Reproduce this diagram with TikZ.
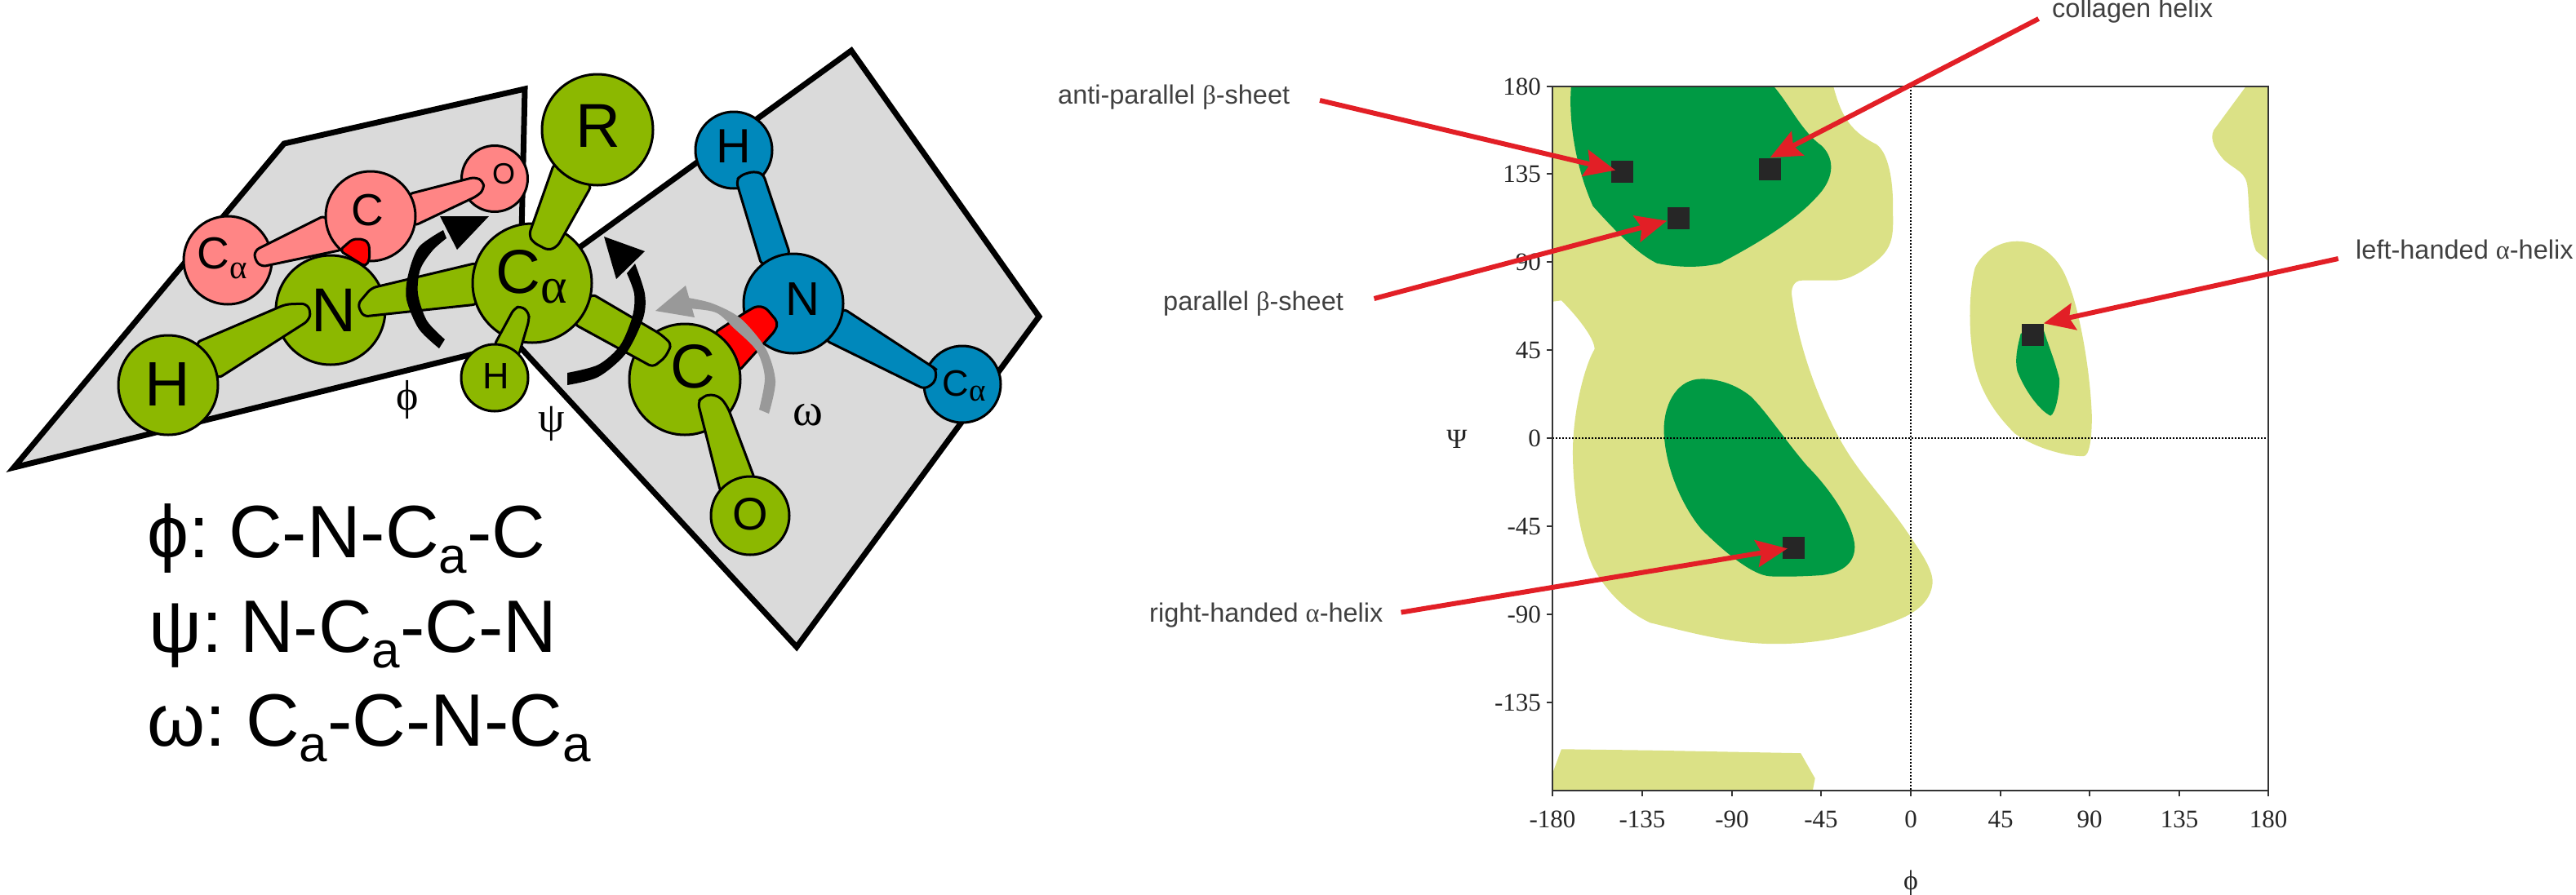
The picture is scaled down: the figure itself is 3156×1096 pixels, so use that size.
\documentclass[tikz,border=0pt]{standalone}
\usepackage{fontspec}
\setmainfont{Liberation Sans}
\newfontfamily\serifgr{Liberation Serif}
\usetikzlibrary{arrows.meta}
\newcommand{\fsz}[1]{\fontsize{#1}{#1}\selectfont}
\definecolor{plane}{HTML}{DADADA}
\definecolor{olive}{HTML}{8CB800}
\definecolor{pinkat}{HTML}{FF8585}
\definecolor{blueat}{HTML}{0088BB}
\definecolor{lightrama}{HTML}{DBE186}
\definecolor{darkrama}{HTML}{009A44}
\definecolor{redarrow}{HTML}{E21F26}
\definecolor{frameink}{HTML}{333333}
\definecolor{squareink}{HTML}{262626}
\tikzset{
  planeface/.style={fill=plane,draw=black,line width=7pt,line join=miter},
  atom/.style={circle,draw=black,line width=3pt,inner sep=0pt,minimum size=#1},
  greenat/.style={atom=#1,fill=olive},
  pinka/.style={atom=#1,fill=pinkat},
  bluea/.style={atom=#1,fill=blueat},
  bondg/.style={fill=olive,draw=black,line width=3pt,rounded corners=6pt},
  bondp/.style={fill=pinkat,draw=black,line width=3pt,rounded corners=6pt},
  bondb/.style={fill=blueat,draw=black,line width=3pt,rounded corners=6pt},
  bondr/.style={fill=red,draw=black,line width=3pt,rounded corners=5pt},
  turnhead/.style={fill=black},
  grayhead/.style={fill=black!40},
  lightreg/.style={fill=lightrama},
  darkreg/.style={fill=darkrama},
  marker/.style={rectangle,fill=squareink,inner sep=0pt,minimum size=27pt},
  redline/.style={draw=redarrow,line width=6pt,-{Stealth[length=38pt,width=33pt,inset=6pt]}},
  ticklab/.style={font=\serifgr\fsz{31},text=black!85,inner sep=0pt},
  plab/.style={font=\fsz{32.5},text=black!75,inner sep=0pt},
  eqn/.style={font=\fsz{91},anchor=base west,inner sep=0pt},
  angle/.style={font=\serifgr\fsz{52},inner sep=0pt},
}
\newcommand{\suba}{\raisebox{-19pt}[0pt][0pt]{\fsz{62}a}}
\newcommand{\calf}[2]{C\raisebox{-#2pt}[0pt][0pt]{\serifgr\fsz{#1}α}}
% text in an atom, moved dx right and dy down of the atom's centre
\newcommand{\ot}[3]{\raisebox{\dimexpr-#2pt-0.344em\relax}[0pt][0pt]{\makebox[0pt][c]{\hspace*{\dimexpr #1pt*2\relax}#3}}}
\begin{document}
\begin{tikzpicture}[x=1pt,y=-1pt]
\useasboundingbox (0,0) rectangle (3156,1096);
% planes
\draw[planeface] (17,573) -- (348,176) -- (643,109) -- (636,420) -- cycle;
\draw[planeface] (1043,62) -- (1273,388) -- (976,793) -- (634,422) -- (640,354) -- cycle;
% pink residue
\node[pinka=108pt,font=\fsz{55}] (pca) at (279,319) {\ot{-7}{-8}{\calf{41}{12}}};
\node[pinka=81pt,font=\fsz{36}] (po) at (606,219) {\ot{11}{-6}{O}};
\draw[bondp] (398,264) -- (312,307) -- (312,318) -- (320,327) -- (420,306) -- cycle;
\draw[bondp] (500,238) -- (582,217) -- (592,222) -- (593,232) -- (585,240) -- (507,277) -- cycle;
\node[pinka=110pt,font=\fsz{55}] (pc) at (454,265) {\ot{-4}{-7}{C}};
\draw[bondr] (416,307) -- (432,293) -- (445,293) -- (452,298) -- (453,317) -- (448,327) -- cycle;
% blue residue
\node[bluea=94pt,font=\fsz{45}] (bca) at (1179,471) {\ot{2}{-1}{\calf{39}{6}}};
\node[bluea=94pt,font=\fsz{59}] (bh) at (899,184) {\ot{0}{-4.5}{H}};
\draw[bondb] (902,222) -- (907,215) -- (923,210) -- (935,213) -- (968,312) -- (933,325) -- cycle;
\draw[bondb] (1033,378) -- (1143,450) -- (1147,453) -- (1146,468) -- (1133,477) -- (1011,417) -- cycle;
\node[bluea=122pt,font=\fsz{58}] (bn) at (972,372) {\ot{11}{-5}{N}};
\draw[bondr] (875,408) -- (913,383) -- (927,375) -- (938,377) -- (953,395) -- (950,405) -- (905,455) -- cycle;
% green residue
\node[greenat=134pt,font=\fsz{76}] (gn) at (405,380) {\ot{3.5}{0}{N}};
\draw[bondg] (240,420) -- (350,373) -- (375,372) -- (381,382) -- (378,393) -- (267,464) -- cycle;
\draw[bondg] (585,322) -- (455,353) -- (438,373) -- (445,388) -- (585,373) -- cycle;
\node[greenat=122pt,font=\fsz{77}] (gh) at (206,472) {\ot{-1}{-1}{H}};
\node[greenat=136pt,font=\fsz{76}] (gc) at (839,465) {\ot{10}{-16}{C}};
\draw[bondg] (725,360) -- (810,410) -- (823,422) -- (815,438) -- (800,450) -- (703,397) -- cycle;
\draw[bondg] (855,493) -- (860,487) -- (870,483) -- (883,487) -- (892,500) -- (925,588) -- (883,604) -- cycle;
\node[greenat=96pt,font=\fsz{56}] (go) at (919,632) {\ot{0}{-2}{O}};
\node[greenat=146pt,font=\fsz{76}] (gca) at (652,347) {\ot{-1}{-13.5}{\calf{62}{12}}};
\draw[bondg] (648,288) -- (653,297) -- (672,307) -- (683,302) -- (725,227) -- (679,200) -- cycle;
\node[greenat=136pt,font=\fsz{76}] (gr) at (732,159) {\ot{1}{-5}{R}};
\draw[bondg] (605,424) -- (630,378) -- (638,375) -- (648,383) -- (648,393) -- (635,437) -- cycle;
\node[greenat=82pt,font=\fsz{45}] (gh2) at (606,463) {\ot{2}{-2}{H}};
% rotation arrows
\fill[turnhead] plot[smooth] coordinates {(538,427) (513,403) (498,367) (500,337) (513,303) (543,282)}
  -- plot[smooth] coordinates {(547,292) (530,307) (515,330) (512,360) (523,393) (545,416)} -- cycle;
\fill[turnhead] (539,265) -- (599,265) -- (560,306) -- cycle;
\fill[turnhead] plot[smooth] coordinates {(695,472) (733,462) (767,433) (788,390) (790,360) (778,323)}
  -- plot[smooth] coordinates {(768,335) (777,360) (775,387) (760,423) (733,447) (695,457)} -- cycle;
\fill[turnhead] (740,290) -- (790,308) -- (755,342) -- cycle;
\fill[grayhead] plot[smooth] coordinates {(942,507) (950,467) (938,427) (907,390) (873,372) (843,365)}
  -- plot[smooth] coordinates {(843,378) (877,383) (900,403) (927,430) (937,463) (930,502)} -- cycle;
\fill[grayhead] (840,350) -- (803,381) -- (851,389) -- cycle;
\node[angle] (lphi) at (499,490) {ϕ};
\node[angle] (lpsi) at (676,519) {ψ};
\node[angle,font=\serifgr\fsz{56}] (lomega) at (990,509) {ω};
% equations
\node[eqn] (eq1g) at (180,683) {ϕ:};
\node[eqn] (eq1) at (280,683) {C-N-C\suba-C};
\node[eqn] (eq2g) at (182,799) {ψ:};
\node[eqn] (eq2) at (294,799) {N-C\suba-C-N};
\node[eqn] (eq3g) at (180,914) {ω:};
\node[eqn] (eq3) at (301,914) {C\suba-C-N-C\suba};
% Ramachandran regions
\begin{scope}[shift={(1250,0)},x=0.7015pt,y=-0.7015pt]
\filldraw[lightreg,draw=none] (930,151) -- (1420,151) .. controls (1432,195) and (1445,228) .. (1495,252)
  .. controls (1520,270) and (1525,330) .. (1524,370) .. controls (1525,410) and (1525,435) .. (1490,460)
  .. controls (1465,478) and (1445,490) .. (1420,490) -- (1365,490) .. controls (1350,490) and (1345,505) .. (1348,520)
  .. controls (1360,610) and (1395,700) .. (1430,765) .. controls (1465,830) and (1510,870) .. (1556,940)
  .. controls (1580,975) and (1595,1000) .. (1593,1020) .. controls (1590,1050) and (1565,1070) .. (1535,1082)
  .. controls (1470,1108) and (1400,1125) .. (1320,1125) .. controls (1240,1125) and (1170,1105) .. (1100,1088)
  .. controls (1050,1065) and (1015,1020) .. (1000,990) .. controls (975,935) and (965,850) .. (965,790)
  .. controls (965,720) and (985,640) .. (1003,610) .. controls (1003,590) and (970,550) .. (945,525) -- (930,527) -- cycle;
\filldraw[darkreg,draw=none] (962,151) .. controls (958,200) and (965,280) .. (1000,360)
  .. controls (1040,405) and (1080,445) .. (1112,460) .. controls (1150,468) and (1190,468) .. (1222,460)
  .. controls (1270,435) and (1350,390) .. (1390,345) .. controls (1420,315) and (1425,280) .. (1400,255)
  .. controls (1365,230) and (1345,185) .. (1316,151) -- cycle;
\filldraw[darkreg,draw=none] (1190,662) .. controls (1150,662) and (1125,700) .. (1124,750)
  .. controls (1125,820) and (1160,890) .. (1190,925) .. controls (1220,955) and (1275,1005) .. (1310,1007)
  .. controls (1340,1008) and (1370,1007) .. (1400,1005) .. controls (1440,1000) and (1460,980) .. (1457,950)
  .. controls (1450,905) and (1410,850) .. (1375,815) .. controls (1340,775) and (1300,715) .. (1275,692)
  .. controls (1250,672) and (1220,662) .. (1190,662) -- cycle;
\filldraw[lightreg,draw=none] (945,1309) -- (1100,1311) -- (1363,1316) -- (1388,1360) -- (1384,1381) -- (930,1381) -- (930,1350) -- cycle;
\end{scope}
\begin{scope}[shift={(2200,0)},x=0.6098pt,y=-0.699pt]
\filldraw[lightreg,draw=none] (905,151) -- (840,228) .. controls (830,245) and (845,265) .. (860,280)
  .. controls (885,300) and (905,300) .. (908,330) .. controls (912,370) and (910,410) .. (925,440) -- (950,458) -- (950,151) -- cycle;
\filldraw[lightreg,draw=none] (445,423) .. controls (400,423) and (370,450) .. (360,470)
  .. controls (348,510) and (348,570) .. (354,610) .. controls (362,680) and (400,725) .. (440,760)
  .. controls (480,785) and (540,800) .. (578,800) .. controls (590,800) and (595,770) .. (595,730)
  .. controls (592,650) and (570,540) .. (545,490) .. controls (525,445) and (485,423) .. (445,423) -- cycle;
\filldraw[darkreg,draw=none] (452,585) .. controls (445,610) and (440,630) .. (445,650)
  .. controls (460,685) and (490,720) .. (512,729) .. controls (522,725) and (530,690) .. (530,665)
  .. controls (520,630) and (505,600) .. (495,570) -- cycle;
\end{scope}
% axes
\draw[black,line width=1.5pt,dash pattern=on 2pt off 2pt] (1902,537) -- (2779,537);
\draw[black,line width=1.5pt,dash pattern=on 2pt off 2pt] (2341,106) -- (2341,969);
\draw[frameink,line width=2.5pt] (1902,106) rectangle (2779,969);
\foreach \n/\ya/\lab in {a/106/180,b/213/135,c/321/90,d/429/45,e/537/0,f/645/-45,g/753/-90,h/861/-135}{
  \draw[frameink,line width=1.5pt] (1895,\ya) -- (1902,\ya);
  \node[ticklab,anchor=east] (yl\n) at (1888,\ya) {\lab};
}
\foreach \n/\xa/\lab in {a/1902/-180,b/2012/-135,c/2122/-90,d/2231/-45,e/2341/0,f/2451/45,g/2560/90,h/2670/135,i/2779/180}{
  \draw[frameink,line width=1.5pt] (\xa,969) -- (\xa,976);
  \node[ticklab,anchor=base] (xl\n) at (\xa,1014) {\lab};
}
\node[ticklab,font=\serifgr\fsz{34}] (psiax) at (1785,538) {Ψ};
\node[ticklab,font=\serifgr\fsz{34}] (phiax) at (2341,1082) {ϕ};
% markers
\node[marker] (sqa) at (1987,210.5) {};
\node[marker] (sqc) at (2168.5,207) {};
\node[marker] (sqp) at (2056,267) {};
\node[marker] (sqr) at (2197.7,671) {};
\node[marker] (sql) at (2490,410) {};
% labels
\node[plab,anchor=west] (la) at (1296,119) {anti-parallel {\serifgr β}-sheet};
\node[plab,anchor=west] (lp) at (1425,372) {parallel {\serifgr β}-sheet};
\node[plab,anchor=west] (lr) at (1408,754) {right-handed {\serifgr α}-helix};
\node[plab,anchor=west] (lc) at (2514,13) {collagen helix};
\node[plab,anchor=west] (ll) at (2886,306) {left-handed {\serifgr α}-helix};
% red arrows
\coordinate (sa) at (1617,123);
\coordinate (sp) at (1683.5,366);
\coordinate (sr) at (1716.5,750.6);
\coordinate (sc) at (2497.6,23);
\coordinate (sl) at (2864.7,317);
\draw[redline,shorten >=-6pt] (sa) -- (sqa);
\draw[redline] (sp) -- (sqp);
\draw[redline,shorten >=-6pt] (sr) -- (sqr);
\draw[redline] (sc) -- (sqc.north);
\draw[redline] (sl) -- (sql.north east);
\end{tikzpicture}
\end{document}
